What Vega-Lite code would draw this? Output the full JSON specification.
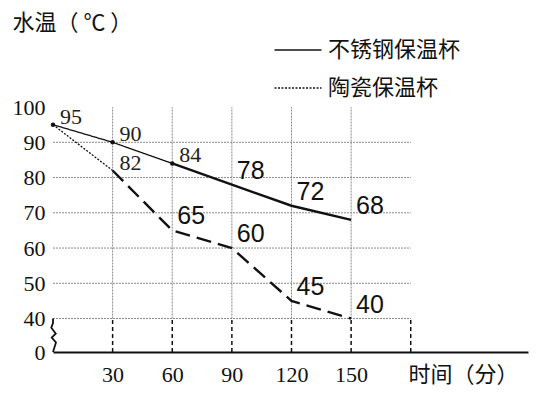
{
  "$schema": "https://vega.github.io/schema/vega-lite/v6.json",
  "width": 475,
  "height": 320,
  "autosize": {"type": "none"},
  "padding": {"left": 53, "top": 32, "right": 9, "bottom": 42},
  "background": "white",
  "config": {"view": {"stroke": null}},
  "datasets": {
    "temps": [
      {"time": 0, "temp": 95, "cup": "不锈钢保温杯"},
      {"time": 30, "temp": 90, "cup": "不锈钢保温杯"},
      {"time": 60, "temp": 84, "cup": "不锈钢保温杯"},
      {"time": 90, "temp": 78, "cup": "不锈钢保温杯"},
      {"time": 120, "temp": 72, "cup": "不锈钢保温杯"},
      {"time": 150, "temp": 68, "cup": "不锈钢保温杯"},
      {"time": 0, "temp": 95, "cup": "陶瓷保温杯"},
      {"time": 30, "temp": 82, "cup": "陶瓷保温杯"},
      {"time": 60, "temp": 65, "cup": "陶瓷保温杯"},
      {"time": 90, "temp": 60, "cup": "陶瓷保温杯"},
      {"time": 120, "temp": 45, "cup": "陶瓷保温杯"},
      {"time": 150, "temp": 40, "cup": "陶瓷保温杯"}
    ],
    "hgrid": [{"v": 40}, {"v": 50}, {"v": 60}, {"v": 70}, {"v": 80}, {"v": 90}],
    "vgrid": [{"t": 30}, {"t": 60}, {"t": 90}, {"t": 120}, {"t": 150}],
    "vlow": [{"t": 30}, {"t": 60}, {"t": 90}, {"t": 120}, {"t": 150}, {"t": 180}],
    "zigzag": [
      {"i": 0, "zx": 0, "zy": 40},
      {"i": 1, "zx": 0, "zy": 38.7},
      {"i": 2, "zx": -0.85, "zy": 37.4},
      {"i": 3, "zx": 1.4, "zy": 35.7},
      {"i": 4, "zx": -0.65, "zy": 34.6},
      {"i": 5, "zx": 1.5, "zy": 33.2},
      {"i": 6, "zx": 0, "zy": 30.5}
    ]
  },
  "layer": [
    {
      "data": {"name": "hgrid"},
      "mark": {"type": "rule", "stroke": "#8a8a8a", "strokeWidth": 1, "strokeDash": [2, 1]},
      "encoding": {
        "y": {"field": "v", "type": "quantitative", "scale": {"domain": [30.5, 121.3], "nice": false, "zero": false},
          "axis": {"values": [30.5, 40, 50, 60, 70, 80, 90, 100], "labelExpr": "datum.value < 35 ? '0' : datum.label",
            "grid": false, "ticks": false, "domain": false, "labelFont": "Liberation Serif", "labelFontSize": 22,
            "labelColor": "#111", "labelPadding": 8,
            "title": "水温（ ℃ ）", "titleAngle": 0, "titleX": -41, "titleY": -20, "titleAlign": "left", "titleBaseline": "top",
            "titleFont": "Noto Sans CJK SC", "titleFontWeight": "normal", "titleFontSize": 22, "titleColor": "#111"}},
        "x": {"datum": 0, "type": "quantitative", "scale": {"domain": [0, 239], "nice": false, "zero": false},
          "axis": {"values": [30, 60, 90, 120, 150], "grid": false, "ticks": false, "domain": true, "domainColor": "#111",
            "domainWidth": 2, "labelFont": "Liberation Serif", "labelFontSize": 22, "labelColor": "#111", "labelPadding": 12,
            "title": "时间（分）", "titleX": 355, "titleY": 12, "titleAlign": "left", "titleBaseline": "top",
            "titleFont": "Noto Sans CJK SC", "titleFontWeight": "normal", "titleFontSize": 22, "titleColor": "#111"}},
        "x2": {"datum": 180}
      }
    },
    {
      "data": {"name": "vgrid"},
      "mark": {"type": "rule", "stroke": "#8a8a8a", "strokeWidth": 1, "strokeDash": [2, 1]},
      "encoding": {
        "x": {"field": "t", "type": "quantitative"},
        "y": {"datum": 40, "type": "quantitative"},
        "y2": {"datum": 100}
      }
    },
    {
      "data": {"name": "vlow"},
      "mark": {"type": "rule", "stroke": "#111", "strokeWidth": 1.5, "strokeDash": [4, 3]},
      "encoding": {
        "x": {"field": "t", "type": "quantitative"},
        "y": {"datum": 30.5, "type": "quantitative"},
        "y2": {"datum": 40}
      }
    },
    {
      "mark": {"type": "rule", "stroke": "#111", "strokeWidth": 2},
      "encoding": {
        "x": {"datum": 0, "type": "quantitative"},
        "x2": {"datum": 180},
        "y": {"datum": 100, "type": "quantitative"}
      }
    },
    {
      "mark": {"type": "rule", "stroke": "#111", "strokeWidth": 1.3},
      "encoding": {
        "x": {"datum": 180, "type": "quantitative"},
        "y": {"datum": 40, "type": "quantitative"},
        "y2": {"datum": 100}
      }
    },
    {
      "mark": {"type": "rule", "stroke": "#111", "strokeWidth": 2},
      "encoding": {
        "x": {"datum": 0, "type": "quantitative"},
        "y": {"datum": 38.7, "type": "quantitative"},
        "y2": {"datum": 121.3}
      }
    },
    {
      "data": {"name": "zigzag"},
      "mark": {"type": "line", "stroke": "#111", "strokeWidth": 1.8, "clip": false},
      "encoding": {
        "x": {"field": "zx", "type": "quantitative"},
        "y": {"field": "zy", "type": "quantitative"},
        "order": {"field": "i", "type": "quantitative"}
      }
    },
    {
      "data": {"name": "temps"},
      "transform": [{"filter": "(datum.cup == '不锈钢保温杯' && datum.time <= 60) || (datum.cup == '陶瓷保温杯' && datum.time <= 30)"}],
      "mark": {"type": "line", "stroke": "#111", "strokeWidth": 1.3},
      "encoding": {
        "x": {"field": "time", "type": "quantitative"},
        "y": {"field": "temp", "type": "quantitative"},
        "strokeDash": {"field": "cup", "type": "nominal",
          "scale": {"domain": ["不锈钢保温杯", "陶瓷保温杯"], "range": [[1, 0], [2, 1.5]]},
          "legend": {"orient": "none", "legendX": 234, "legendY": 7, "title": null, "padding": 0,
            "symbolType": "M-2.5,0H2.5", "symbolSize": 353, "symbolStrokeWidth": 1.6, "symbolStrokeColor": "#111",
            "labelFont": "Noto Sans CJK SC", "labelFontSize": 22, "labelColor": "#111", "labelOffset": 19,
            "rowPadding": 16, "labelLimit": 300}}
      }
    },
    {
      "data": {"name": "temps"},
      "transform": [{"filter": "datum.cup == '不锈钢保温杯' && datum.time >= 60"}],
      "mark": {"type": "line", "stroke": "#111", "strokeWidth": 2.4},
      "encoding": {
        "x": {"field": "time", "type": "quantitative"},
        "y": {"field": "temp", "type": "quantitative"}
      }
    },
    {
      "data": {"name": "temps"},
      "transform": [{"filter": "datum.cup == '陶瓷保温杯' && datum.time >= 30"}],
      "mark": {"type": "line", "stroke": "#111", "strokeWidth": 2.4, "strokeDash": [15, 7]},
      "encoding": {
        "x": {"field": "time", "type": "quantitative"},
        "y": {"field": "temp", "type": "quantitative"}
      }
    },
    {
      "data": {"name": "temps"},
      "transform": [{"filter": "datum.cup == '不锈钢保温杯' && datum.time <= 60"}],
      "mark": {"type": "circle", "color": "#111", "size": 20, "opacity": 1},
      "encoding": {
        "x": {"field": "time", "type": "quantitative"},
        "y": {"field": "temp", "type": "quantitative"}
      }
    },
    {
      "data": {"name": "temps"},
      "transform": [{"filter": "(datum.cup == '不锈钢保温杯' && datum.time <= 60) || (datum.cup == '陶瓷保温杯' && datum.time == 30)"}],
      "mark": {"type": "text", "font": "Liberation Serif", "fontSize": 22, "color": "#222", "align": "left", "baseline": "alphabetic", "dx": 7, "dy": -1},
      "encoding": {
        "x": {"field": "time", "type": "quantitative"},
        "y": {"field": "temp", "type": "quantitative"},
        "text": {"field": "temp", "type": "quantitative"}
      }
    },
    {
      "data": {"name": "temps"},
      "transform": [{"filter": "(datum.cup == '不锈钢保温杯' && datum.time >= 90) || (datum.cup == '陶瓷保温杯' && datum.time >= 60)"}],
      "mark": {"type": "text", "font": "Liberation Sans", "fontSize": 25, "color": "#111", "align": "left", "baseline": "alphabetic", "dx": 5, "dy": -6},
      "encoding": {
        "x": {"field": "time", "type": "quantitative"},
        "y": {"field": "temp", "type": "quantitative"},
        "text": {"field": "temp", "type": "quantitative"}
      }
    }
  ]
}
